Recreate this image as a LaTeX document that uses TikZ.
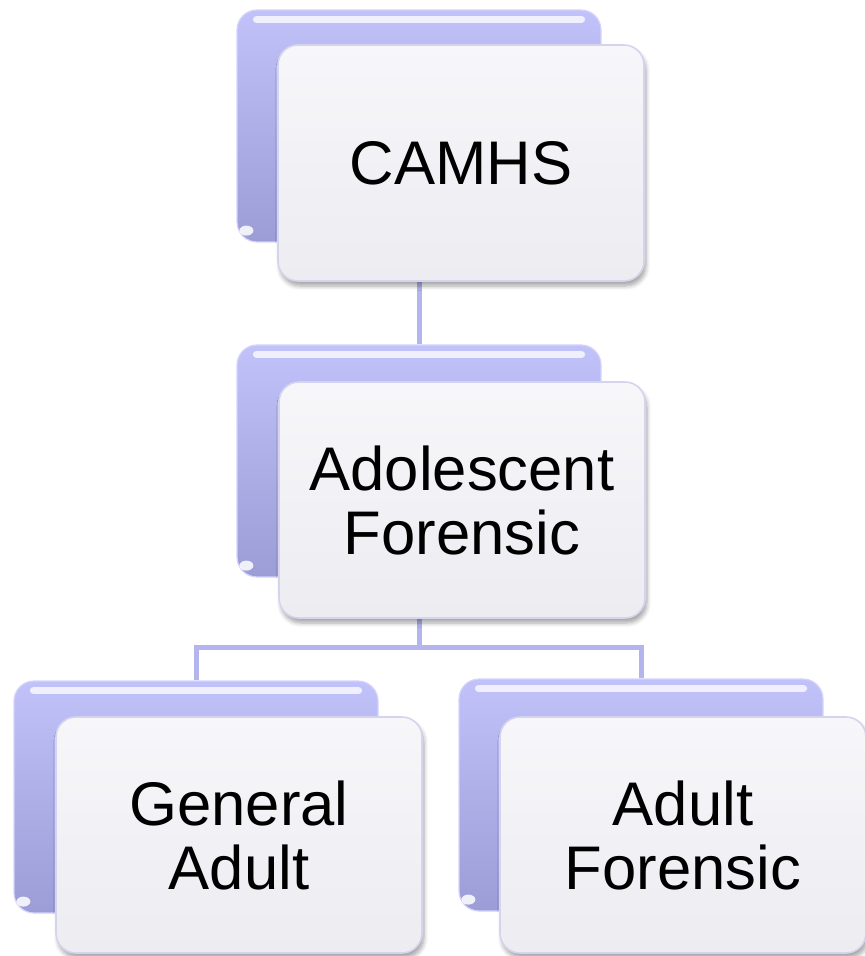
\documentclass[tikz,border=0pt]{standalone}
\usepackage{fontspec}
\setmainfont{Liberation Sans}
\usetikzlibrary{shadows.blur}
\definecolor{BackTop}{HTML}{C2C2FA}
\definecolor{BackBot}{HTML}{9C9CD6}
\definecolor{FrontTop}{HTML}{F7F7FA}
\definecolor{FrontBot}{HTML}{ECECF1}
\definecolor{FrontLine}{HTML}{D4D4EE}
\definecolor{LinkLine}{HTML}{B4B4EE}

\begin{document}
\begin{tikzpicture}[x=0.5pt, y=-0.5pt,
    backbox/.style={rounded corners=10pt, minimum width=182pt, minimum height=116pt,
        top color=BackTop, bottom color=BackBot, draw=BackTop!70!white, line width=0.6pt},
    frontbox/.style={rounded corners=10pt, minimum width=183pt, minimum height=118pt,
        top color=FrontTop, bottom color=FrontBot, draw=FrontLine, line width=0.8pt,
        align=center, font=\fontsize{30.8pt}{32pt}\selectfont,
        blur shadow={shadow xshift=1pt, shadow yshift=-2.5pt, shadow opacity=35, shadow blur steps=6}},
    link/.style={draw=LinkLine, line width=2.5pt},
    gloss/.style={white, line width=3.5pt, opacity=0.75, line cap=round}]
        \useasboundingbox (0,0) rectangle (864,956);
        % back cards
        \node[backbox] (camhsback) at (419,126) {};
        \node[backbox] (adolback) at (419,461) {};
        \node[backbox] (genback) at (196,797) {};
        \node[backbox] (adfback) at (641,795) {};
        \foreach \b in {camhsback, adolback, genback, adfback} {
            \draw[gloss] ([xshift=10pt, yshift=-5pt]\b.north west) -- ([xshift=-10pt, yshift=-5pt]\b.north east);
            \fill[white, opacity=0.85] ([xshift=5pt, yshift=6pt]\b.south west) ellipse (3.5pt and 2.5pt);
        }
        % connectors
        \coordinate (fork) at (419,647);
        \draw[link] (camhsback.south) -- (adolback.north);
        \draw[link] (adolback.south) -- (fork) -| (genback.north);
        \draw[link] (fork) -| (adfback.north);
        % front cards
        \node[frontbox] (camhs) at (461,163) {CAMHS};
        \node[frontbox] (adol) at (462,500) {Adolescent\\Forensic};
        \node[frontbox] (gen) at (239,835) {General\\Adult};
        \node[frontbox] (adf) at (683,835) {Adult\\Forensic};
    \end{tikzpicture}
\end{document}
